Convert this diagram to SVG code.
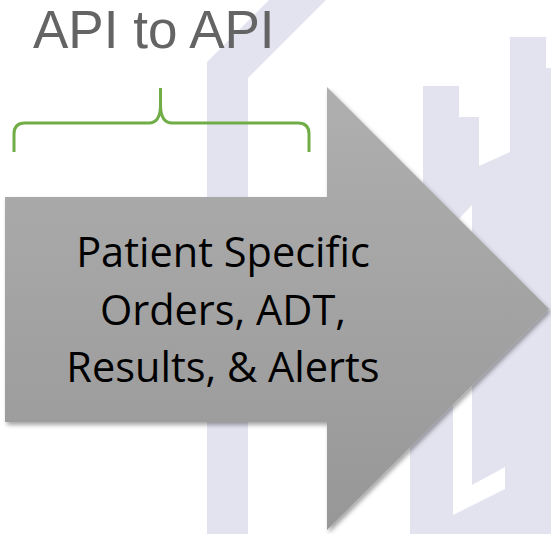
<svg xmlns="http://www.w3.org/2000/svg" width="551" height="534" viewBox="0 0 551 534">
  <defs>
    <linearGradient id="arrowGrad" gradientUnits="userSpaceOnUse" x1="0" y1="87" x2="0" y2="530">
      <stop offset="0" stop-color="#afafaf"/>
      <stop offset="1" stop-color="#979797"/>
    </linearGradient>
    <filter id="shadow" x="-5%" y="-5%" width="115%" height="115%">
      <feDropShadow dx="2" dy="3" stdDeviation="2.2" flood-color="#000" flood-opacity="0.35"/>
    </filter>
    <style>
      .bg { fill: #e3e3f0; }
      .title { font-family: "Liberation Sans", Arial, sans-serif; font-size: 53px; fill: #646464; }
      .label { font-family: "Open Sans", "Noto Sans", sans-serif; font-size: 41.5px; fill: #000; text-anchor: middle; }
      .brace { fill: none; stroke: #70ad47; stroke-width: 3; stroke-linejoin: round; }
    </style>
  </defs>

  <rect width="551" height="534" fill="#ffffff"/>

  <g id="background">
    <polygon class="bg" points="207,534 207,62 269,0 326,0 248,78 248,534"/>
    <polygon class="bg" points="423,86 459,86 459,117 479,117 479,166 510,152 510,37 546,37 546,68 551,68 551,534 410,534 410,300 423,300"/>
    <polygon fill="#ffffff" points="453,225 472,205 472,485 505,467 505,489 453,515"/>
  </g>

  <g id="title">
    <text class="title" x="33" y="48">API to API</text>
  </g>

  <g id="brace">
    <path class="brace" d="M14,152 L14,134 Q14,123 25,123 L149,123 Q160,123 160.5,106 L160.5,88 M160.5,106 Q161,123 172,123 L298,123 Q309,123 309,134 L309,152"/>
  </g>

  <g id="arrow">
    <polygon fill="url(#arrowGrad)" filter="url(#shadow)" points="5,197 327,197 327,87 549,309 327,530 327,422 5,422"/>
    <text class="label" x="223" y="267">Patient Specific</text>
    <text class="label" x="223" y="325">Orders, ADT,</text>
    <text class="label" x="223" y="382">Results, &amp; Alerts</text>
  </g>
</svg>
